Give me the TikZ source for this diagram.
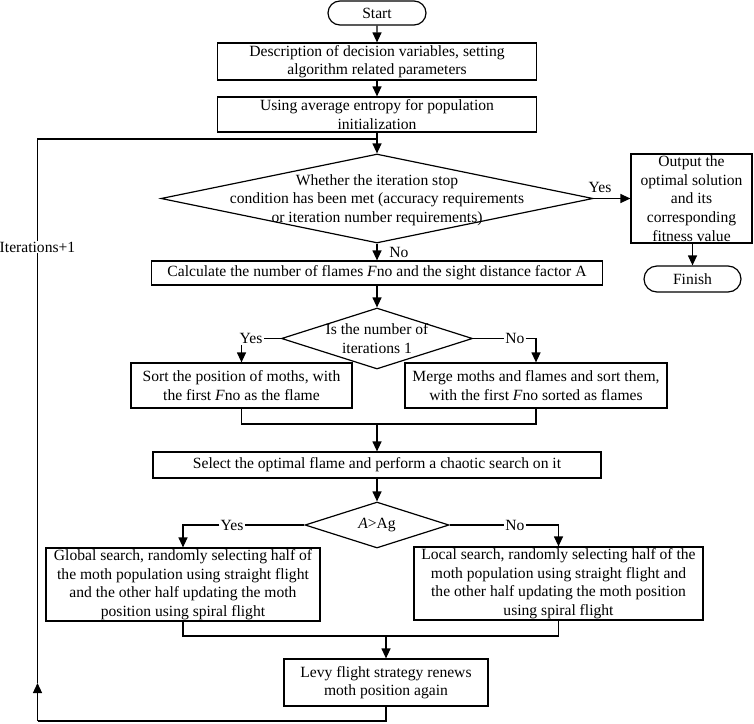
\documentclass[tikz,border=0pt]{standalone}
\usepackage{fontspec}
\setmainfont{Liberation Serif}
\usetikzlibrary{arrows.meta,shapes.geometric,shapes.misc}
\begin{document}
\begin{tikzpicture}[x=1pt,y=-1pt,
  every node/.style={font=\fontsize{15.6pt}{18.6pt}\selectfont},
  box/.style={draw, line width=1.2pt, align=center, inner sep=0pt},
  term/.style={draw, line width=1.2pt, rounded rectangle, inner sep=0pt},
  dia/.style={draw, line width=1.2pt, diamond, inner sep=0pt},
  txt/.style={align=center, inner sep=0pt},
  lbl/.style={inner sep=1pt},
  line/.style={line width=1.2pt},
  arr/.style={line width=1.2pt, -{Triangle[length=10pt,width=9pt]}}]
\useasboundingbox (0,0) rectangle (754,723);

\node[term, minimum width=98pt, minimum height=24pt] (start) at (377,13) {Start};
\node[box, minimum width=319pt, minimum height=37pt] (b1) at (377,61.5) {Description of decision variables, setting\\algorithm related parameters};
\node[box, minimum width=319pt, minimum height=35pt] (b2) at (377,114.5) {Using average entropy for population\\initialization};
\node[dia, minimum width=432pt, minimum height=89pt, label={[txt,yshift=-1.5pt]center:{Whether the iteration stop\\condition has been met (accuracy requirements\\or iteration number requirements)}}] (d1) at (377,198.5) {};
\node[box, minimum width=121pt, minimum height=89pt] (out) at (691.5,198.5) {Output the\\optimal solution\\and its\\corresponding\\fitness value};
\node[term, minimum width=97pt, minimum height=26pt] (fin) at (692.5,279) {Finish};
\node[box, minimum width=451pt, minimum height=24pt] (b3) at (377,273) {Calculate the number of flames \textit{F}no and the sight distance factor A};
\node[dia, minimum width=191pt, minimum height=61pt, label={[txt]center:{Is the number of\\iterations 1}}] (d2) at (377,338.5) {};
\node[box, minimum width=221pt, minimum height=45pt] (b4) at (241.5,385.5) {Sort the position of moths, with\\the first \textit{F}no as the flame};
\node[box, minimum width=262pt, minimum height=45pt] (b5) at (536,385.5) {Merge moths and flames and sort them,\\with the first \textit{F}no sorted as flames};
\node[box, minimum width=448pt, minimum height=26pt] (b6) at (377,465) {Select the optimal flame and perform a chaotic search on it};
\node[dia, minimum width=144pt, minimum height=46pt, label={[txt]center:{\textit{A}>Ag}}] (d3) at (377,525) {};
\node[box, minimum width=274pt, minimum height=73pt] (b7) at (183,584.5) {Global search, randomly selecting half of\\the moth population using straight flight\\and the other half updating the moth\\position using spiral flight};
\node[box, minimum width=289pt, minimum height=73pt] (b8) at (558.5,583.5) {Local search, randomly selecting half of the\\moth population using straight flight and\\the other half updating the moth position\\using spiral flight};
\node[box, minimum width=204pt, minimum height=47pt] (b9) at (386,682.5) {Levy flight strategy renews\\moth position again};

\node[lbl] (y1) at (600,187) {Yes};
\node[lbl] (n1) at (399,252) {No};
\node[lbl] (y2) at (251,338.5) {Yes};
\node[lbl] (n2) at (515,338.5) {No};
\node[lbl] (y3) at (232,525) {Yes};
\node[lbl] (n3) at (515,525) {No};
\node[lbl] (it) at (37.5,247) {Iterations+1};

\draw[arr] (start) -- (b1);
\draw[arr] (b1) -- (b2);
\draw[arr] (b2) -- (d1);
\draw[arr] (d1.east) -- (out.west);
\draw[arr] (out.south -| fin.north) -- (fin.north);
\draw[arr] (d1.south) -- (b3.north);
\draw[arr] (b3.south) -- (d2.north);
\draw[line] (d2.west) -- (y2.east);
\draw[arr] (y2.south -| b4.north) -- (b4.north);
\draw[line] (d2.east) -- (n2.west);
\draw[arr] (n2.east) -| (b5.north);
\coordinate (m1) at (377,424);
\draw[line] (b4.south) |- (m1) -| (b5.south);
\draw[arr] (m1) -- (b6.north);
\draw[arr] (b6) -- (d3);
\draw[line] (d3.west) -- (y3.east);
\draw[arr] (y3.west) -| (b7.north);
\draw[line] (d3.east) -- (n3.west);
\draw[arr] (n3.east) -| (b8.north);
\coordinate (m2) at (386,636);
\draw[line] (b7.south) |- (m2) -| (b8.south);
\draw[arr] (m2) -- (b9.north);
\coordinate (lb) at (37.5,721);
\coordinate (la) at (37.5,683);
\coordinate (lt) at (37.5,139);
\coordinate (lj) at (377,139);
\draw[line] (b9.south) |- (lb);
\draw[arr] (lb) -- (la);
\draw[line] (la) -- (it.south);
\draw[line] (it.north) -- (lt) -- (lj);
\end{tikzpicture}
\end{document}
